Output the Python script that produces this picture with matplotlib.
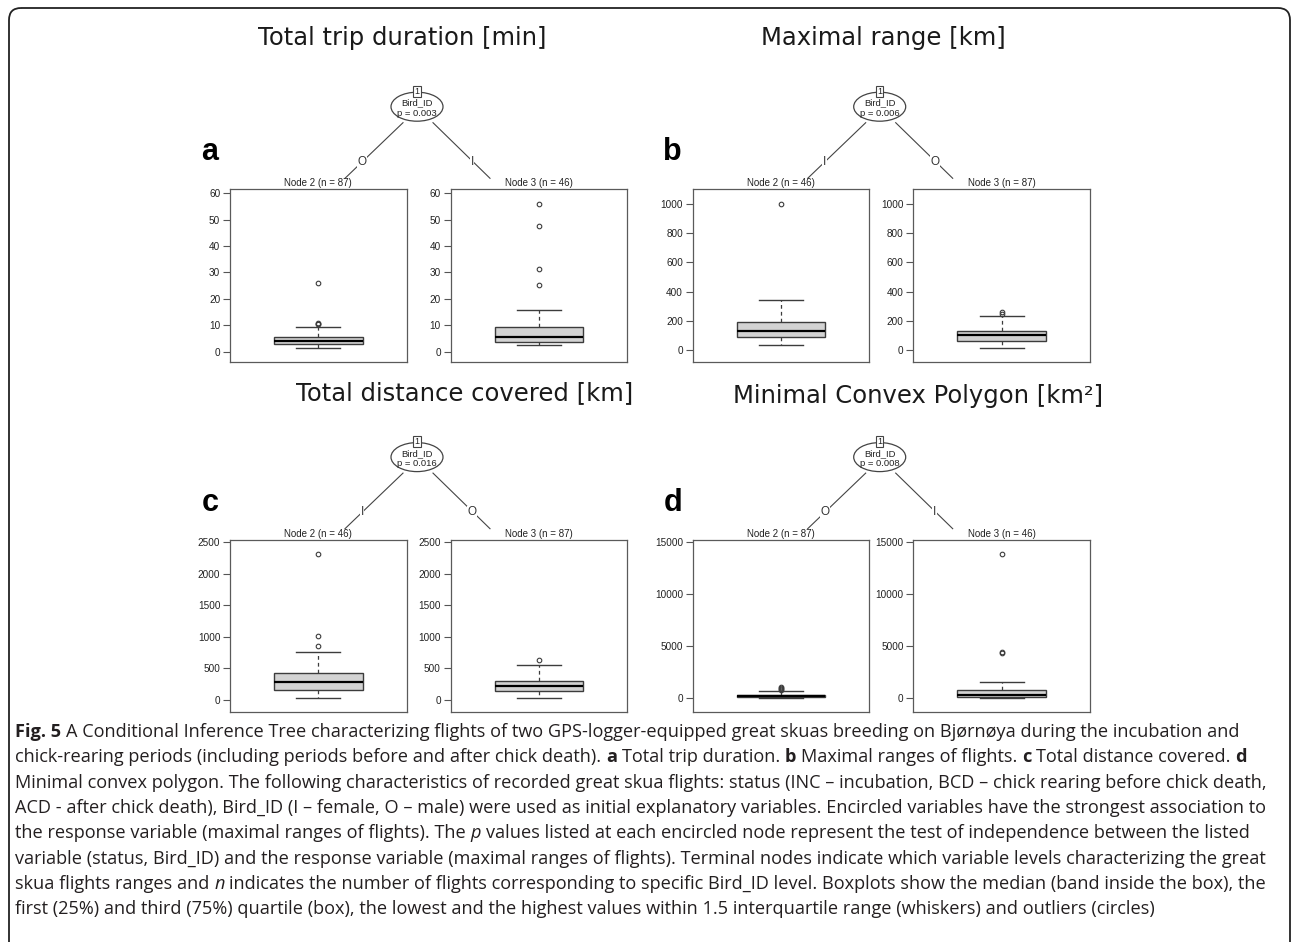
import numpy as np
import matplotlib
matplotlib.use("Agg")
import matplotlib.pyplot as plt
from matplotlib.patches import Ellipse, FancyBboxPatch

# ---------------- data ----------------
panel_letters = ["a", "b", "c", "d"]
panel_titles = ["Total trip duration [min]", "Maximal range [km]",
                "Total distance covered [km]", "Minimal Convex Polygon [km²]"]
split_var = ["Bird_ID", "Bird_ID", "Bird_ID", "Bird_ID"]
p_values = ["0.003", "0.006", "0.016", "0.008"]
left_levels = ["O", "I", "I", "O"]
right_levels = ["I", "O", "O", "I"]
left_n = [87, 46, 46, 87]
right_n = [46, 87, 87, 46]
y_tick_step = [10, 200, 500, 5000]
y_tick_max = [60, 1000, 2500, 15000]

# boxplot summaries: whisker low, q1, median, q3, whisker high ; outliers
a_left_stats = [1.5, 3.0, 4.0, 5.55, 9.45]
a_left_out = [10.3, 10.6, 10.9, 26.0]
a_right_stats = [2.3, 3.65, 5.55, 9.45, 15.8]
a_right_out = [25.1, 31.4, 47.6, 56.0]
b_left_stats = [36, 89, 128, 190, 342]
b_left_out = [1002]
b_right_stats = [16, 62, 103, 128, 231]
b_right_out = [245, 262]
c_left_stats = [26, 148, 285, 418, 756]
c_left_out = [861, 1020, 2315]
c_right_stats = [32, 132, 211, 291, 544]
c_right_out = [624]
d_left_stats = [30, 96, 192, 320, 737]
d_left_out = [830, 900, 1000, 1090]
d_right_stats = [32, 160, 320, 769, 1600]
d_right_out = [4350, 4420, 13880]

left_stats = [a_left_stats, b_left_stats, c_left_stats, d_left_stats]
left_out = [a_left_out, b_left_out, c_left_out, d_left_out]
right_stats = [a_right_stats, b_right_stats, c_right_stats, d_right_stats]
right_out = [a_right_out, b_right_out, c_right_out, d_right_out]

caption_lines = [
    [("Fig. 5", "bold", "normal"), (" A Conditional Inference Tree characterizing flights of two GPS-logger-equipped great skuas breeding on Bjørnøya during the incubation and", "normal", "normal")],
    [("chick-rearing periods (including periods before and after chick death). ", "normal", "normal"), ("a", "bold", "normal"),
     (" Total trip duration. ", "normal", "normal"), ("b", "bold", "normal"), (" Maximal ranges of flights. ", "normal", "normal"),
     ("c", "bold", "normal"), (" Total distance covered. ", "normal", "normal"), ("d", "bold", "normal")],
    [("Minimal convex polygon. The following characteristics of recorded great skua flights: status (INC – incubation, BCD – chick rearing before chick death,", "normal", "normal")],
    [("ACD - after chick death), Bird_ID (I – female, O – male) were used as initial explanatory variables. Encircled variables have the strongest association to", "normal", "normal")],
    [("the response variable (maximal ranges of flights). The ", "normal", "normal"), ("p", "normal", "italic"),
     (" values listed at each encircled node represent the test of independence between the listed", "normal", "normal")],
    [("variable (status, Bird_ID) and the response variable (maximal ranges of flights). Terminal nodes indicate which variable levels characterizing the great", "normal", "normal")],
    [("skua flights ranges and ", "normal", "normal"), ("n", "normal", "italic"),
     (" indicates the number of flights corresponding to specific Bird_ID level. Boxplots show the median (band inside the box), the", "normal", "normal")],
    [("first (25%) and third (75%) quartile (box), the lowest and the highest values within 1.5 interquartile range (whiskers) and outliers (circles)", "normal", "normal")],
]

# ---------------- layout (pixels) ----------------
W, H = 1292, 942
DPI = 100
AX_W, AX_H = 176.7, 172.7
AX_GAP = 220.6
panel_origin = [(230.0, 189.3), (692.7, 189.3), (230.0, 539.7), (692.7, 539.7)]
title_pos = [(402, 38), (883, 38), (465, 393), (918, 396)]
GRAY = "#3c3c3c"

fig = plt.figure(figsize=(W / DPI, H / DPI), dpi=DPI)
fig.patch.set_facecolor("white")
ov = fig.add_axes([0, 0, 1, 1])
ov.set_xlim(0, W)
ov.set_ylim(H, 0)
ov.axis("off")
ov.set_zorder(0)

border = FancyBboxPatch((9, 8), 1281, 1000, boxstyle="round,pad=0,rounding_size=12",
                        fill=False, edgecolor="#222222", linewidth=1.3)
ov.add_patch(border)


def px_rect(x, y, w, h):
    return [x / W, 1 - (y + h) / H, w / W, h / H]


def draw_box(ax, stats, out, ylim, step, top):
    st = [dict(whislo=stats[0], q1=stats[1], med=stats[2], q3=stats[3], whishi=stats[4],
               fliers=np.array(out, dtype=float))]
    ax.bxp(st, positions=[0.5], widths=0.5, capwidths=0.25, patch_artist=True, showfliers=True,
           boxprops=dict(facecolor="#d3d3d3", edgecolor=GRAY, linewidth=1.0),
           medianprops=dict(color="black", linewidth=1.6),
           whiskerprops=dict(color=GRAY, linestyle=(0, (3, 2.5)), linewidth=0.9),
           capprops=dict(color=GRAY, linewidth=1.0),
           flierprops=dict(marker="o", markersize=3.3, markerfacecolor="none",
                           markeredgecolor=GRAY, markeredgewidth=0.8))
    ax.set_xlim(0, 1)
    ax.set_ylim(*ylim)
    ax.set_xticks([])
    ax.set_yticks(np.arange(0, top + step, step))
    ax.tick_params(axis="y", direction="out", length=5, width=0.8, color="#555555",
                   labelsize=7.2, pad=2, labelcolor="#222222")
    for lab in ax.get_yticklabels():
        lab.set_fontfamily("Liberation Sans")
    for s in ax.spines.values():
        s.set_color("#5a5a5a")
        s.set_linewidth(0.9)


for i in range(4):
    x0, y0 = panel_origin[i]
    allv = left_stats[i] + left_out[i] + right_stats[i] + right_out[i]
    lo, hi = min(allv), max(allv)
    d = hi - lo
    ylim = (lo - 0.1 * d, hi + 0.1 * d)

    axl = fig.add_axes(px_rect(x0, y0, AX_W, AX_H))
    draw_box(axl, left_stats[i], left_out[i], ylim, y_tick_step[i], y_tick_max[i])
    axr = fig.add_axes(px_rect(x0 + AX_GAP, y0, AX_W, AX_H))
    draw_box(axr, right_stats[i], right_out[i], ylim, y_tick_step[i], y_tick_max[i])

    # node titles
    ov.text(x0 + AX_W / 2, y0 - 0.8, f"Node 2 (n = {left_n[i]})", ha="center", va="bottom",
            fontsize=7, family="Liberation Sans", color="#222222")
    ov.text(x0 + AX_GAP + AX_W / 2, y0 - 0.8, f"Node 3 (n = {right_n[i]})", ha="center", va="bottom",
            fontsize=7, family="Liberation Sans", color="#222222")

    # tree root
    cx, cy = x0 + 187, y0 - 82.6
    ov.plot([cx - 14, cx - 72], [cy + 16, cy + 71.6], color="#444444", lw=0.8)
    ov.plot([cx + 16, cx + 73], [cy + 16, cy + 71.6], color="#444444", lw=0.8)
    ov.add_patch(Ellipse((cx, cy), 52, 29, facecolor="white", edgecolor="#444444", lw=0.9, zorder=3))
    ov.text(cx, cy - 3.8, split_var[i], ha="center", va="center", fontsize=6.8,
            family="Liberation Sans", color="#222222", zorder=4)
    ov.text(cx, cy + 6.3, f"p = {p_values[i]}", ha="center", va="center", fontsize=6.8,
            family="Liberation Sans", color="#222222", zorder=4)
    ov.text(cx, cy - 15.6, "1", ha="center", va="center", fontsize=6.5, family="Liberation Sans",
            color="#222222", zorder=5,
            bbox=dict(boxstyle="square,pad=0.12", facecolor="white", edgecolor="#444444", lw=0.8))
    ov.text(cx - 55, cy + 55, left_levels[i], ha="center", va="center", fontsize=8.5,
            family="Liberation Sans", color="#333333", zorder=4,
            bbox=dict(boxstyle="square,pad=0.05", facecolor="white", edgecolor="none"))
    ov.text(cx + 55, cy + 55, right_levels[i], ha="center", va="center", fontsize=8.5,
            family="Liberation Sans", color="#333333", zorder=4,
            bbox=dict(boxstyle="square,pad=0.05", facecolor="white", edgecolor="none"))

    # panel letter and title
    ov.text(x0 - 20, y0 - 37, panel_letters[i], ha="center", va="center", fontsize=22,
            fontweight="bold", family="Liberation Sans", color="black")
    tx, ty = title_pos[i]
    ov.text(tx, ty, panel_titles[i], ha="center", va="center", fontsize=17.5,
            family="DejaVu Sans", color="#1a1a1a")

# ---------------- caption ----------------
renderer = fig.canvas.get_renderer()
CAP_FONT = "Open Sans"


def text_w(s, size, weight="normal", style="normal"):
    t = ov.text(0, 0, s, fontsize=size, fontweight=weight, fontstyle=style, family=CAP_FONT)
    w = t.get_window_extent(renderer).width
    t.remove()
    return w


def seg_width(s, size, weight, style, sp):
    core = s.strip(" ")
    nlead = len(s) - len(s.lstrip(" "))
    ntrail = len(s) - len(s.rstrip(" "))
    return (nlead + ntrail) * sp + (text_w(core, size, weight, style) if core else 0), nlead, core


CAP_X0 = 15.0
CAP_TARGET_END = 1254.0
base = 12.0
sp0 = text_w("a a", base) - text_w("aa", base)
widths = [sum(seg_width(s, base, wt, st, sp0)[0] for s, wt, st in ln) for ln in caption_lines[:7]]
cap_size = base * (CAP_TARGET_END - CAP_X0) / (sum(widths) / len(widths))
sp = text_w("a a", cap_size) - text_w("aa", cap_size)

for li, line in enumerate(caption_lines):
    x = CAP_X0
    y = 732 + 25.3 * li
    for s, wt, st in line:
        w, nlead, core = seg_width(s, cap_size, wt, st, sp)
        if core:
            ov.text(x + nlead * sp, y, core, ha="left", va="center", fontsize=cap_size,
                    fontweight=wt, fontstyle=st, family=CAP_FONT, color="#231f20")
        x += w

fig.savefig("out.png", dpi=DPI, facecolor="white")
